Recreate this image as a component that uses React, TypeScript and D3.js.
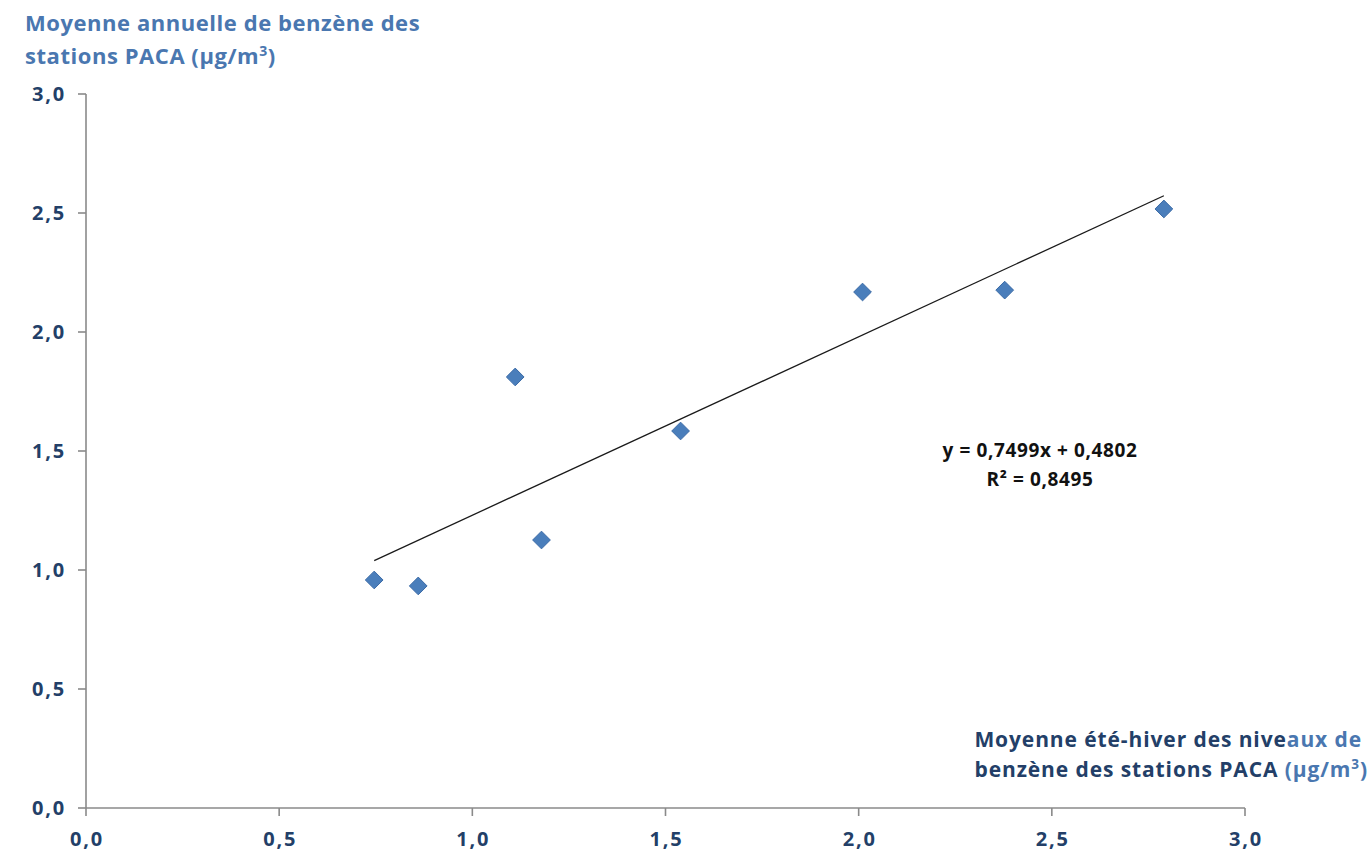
import React from "react";
import * as d3 from "d3";

// Summer-winter mean (x) vs annual mean (y) of benzene, PACA stations, µg/m³
const summerWinterMean = [0.746, 0.86, 1.111, 1.179, 1.539, 2.01, 2.378, 2.79];
const annualMean = [0.958, 0.933, 1.811, 1.126, 1.584, 2.168, 2.176, 2.517];
const tickValues = [0, 0.5, 1, 1.5, 2, 2.5, 3];
const slope = 0.7499;
const intercept = 0.4802;
const rSquared = 0.8495;

const W = 1372;
const H = 856;
const FONT = "'Open Sans', Lato, sans-serif";
const TITLE_BLUE = "#4a77b0";
const NAVY = "#233f68";
const AXIS_GRAY = "#8a8a8a";

const fmt = (v: number) => d3.format(".1f")(v).replace(".", ",");
const fmt4 = (v: number) => d3.format(".4f")(v).replace(".", ",");

export default function App() {
  const x = d3.scaleLinear().domain([0, 3]).range([86, 1245]);
  const y = d3.scaleLinear().domain([0, 3]).range([808, 94]);

  const xMin = d3.min(summerWinterMean) as number;
  const xMax = d3.max(summerWinterMean) as number;
  const trend = d3
    .line<number>()
    .x((d) => x(d))
    .y((d) => y(slope * d + intercept))([xMin, xMax]) as string;

  const diamond = d3.symbol().type(d3.symbolDiamond2).size(200)() as string;

  return (
    <svg
      width={W}
      height={H}
      style={{ position: "absolute", left: 0, top: 0, background: "#fff" }}
      fontFamily={FONT}
    >
      {/* Y axis title */}
      <g fill={TITLE_BLUE} fontWeight={700} fontSize={22} letterSpacing={0.55}>
        <text x={25} y={31}>Moyenne annuelle de benzène des</text>
        <text x={25} y={64}>
          stations PACA (µg/m<tspan fontSize={14} dy={-8}>3</tspan>
          <tspan dy={8}>)</tspan>
        </text>
      </g>

      {/* Axes */}
      <g stroke={AXIS_GRAY} strokeWidth={1.6}>
        <line x1={x(0)} x2={x(0)} y1={y(3)} y2={y(0)} />
        <line x1={x(0)} x2={x(3)} y1={y(0)} y2={y(0)} />
        {tickValues.map((t) => (
          <line key={"yt" + t} x1={x(0) - 8} x2={x(0)} y1={y(t)} y2={y(t)} />
        ))}
        {tickValues.map((t) => (
          <line key={"xt" + t} x1={x(t)} x2={x(t)} y1={y(0)} y2={y(0) + 8} />
        ))}
      </g>

      {/* Tick labels */}
      <g fill={NAVY} fontWeight={700} fontSize={20} letterSpacing={1.8}>
        {tickValues.map((t) => (
          <text key={"yl" + t} x={x(0) - 20} y={y(t)} dy="0.35em" textAnchor="end">
            {fmt(t)}
          </text>
        ))}
        {tickValues.map((t) => (
          <text key={"xl" + t} x={x(t) + 1} y={y(0) + 38} textAnchor="middle">
            {fmt(t)}
          </text>
        ))}
      </g>

      {/* X axis title */}
      <g fontWeight={700} fontSize={21} letterSpacing={0.9} textAnchor="end">
        <text x={1362} y={747} fill={NAVY}>
          Moyenne été-hiver des nive<tspan fill={TITLE_BLUE}>aux de</tspan>
        </text>
        <text x={1368} y={777} fill={NAVY}>
          benzène des stations PACA <tspan fill={TITLE_BLUE}>(µg/m</tspan>
          <tspan fill={TITLE_BLUE} fontSize={13.5} dy={-8}>3</tspan>
          <tspan fill={TITLE_BLUE} dy={8}>)</tspan>
        </text>
      </g>

      {/* Trend line */}
      <path d={trend} fill="none" stroke="#1a1a1a" strokeWidth={1.3} />

      {/* Points */}
      <g fill="#4a7ebb" stroke="#3a6aa6" strokeWidth={1}>
        {summerWinterMean.map((v, i) => (
          <path key={i} d={diamond} transform={`translate(${x(v)},${y(annualMean[i])})`} />
        ))}
      </g>

      {/* Regression equation */}
      <g fill="#111" fontWeight={700} fontSize={19} letterSpacing={0.6} textAnchor="middle">
        <text x={1040} y={457}>
          y = {fmt4(slope)}x + {fmt4(intercept)}
        </text>
        <text x={1040} y={486}>
          R² = {fmt4(rSquared)}
        </text>
      </g>
    </svg>
  );
}
